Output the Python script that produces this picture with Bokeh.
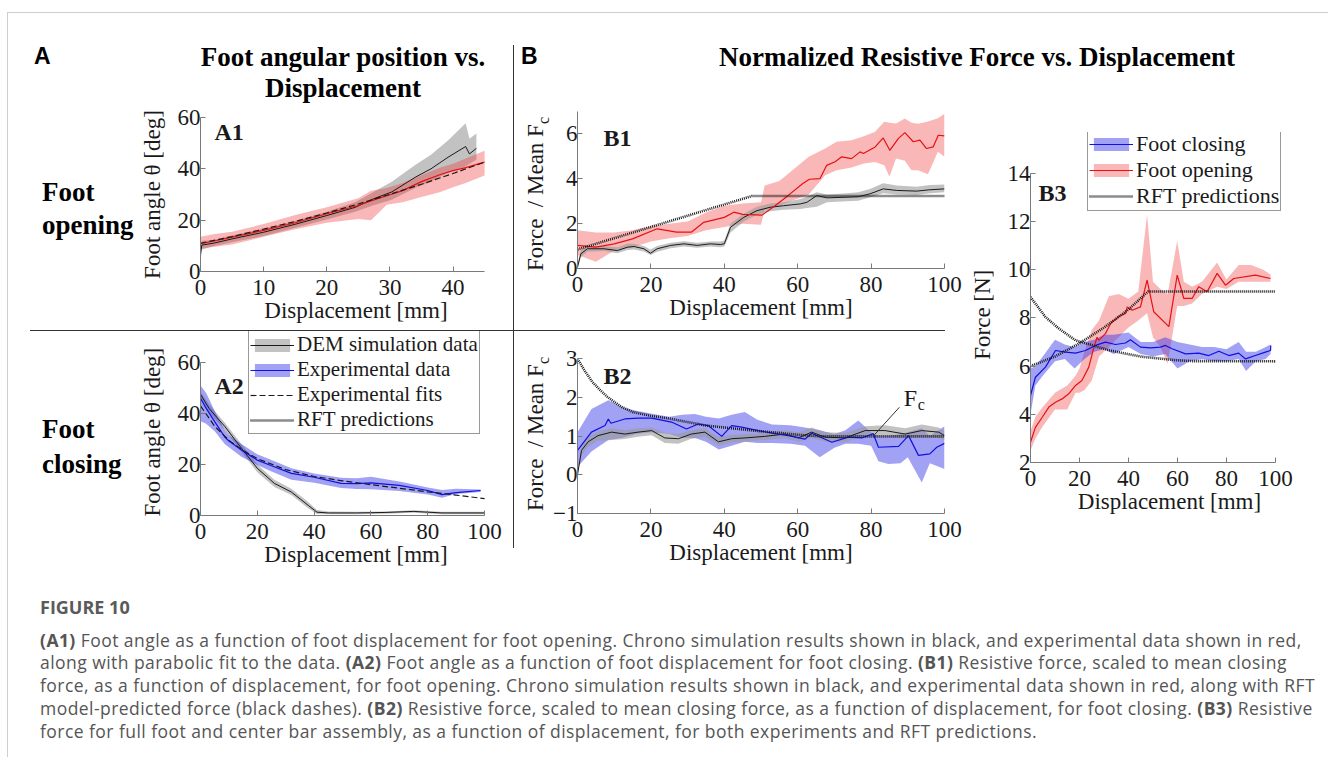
from bokeh.plotting import figure
from bokeh.models import Range1d, FixedTicker, Label, Legend, LegendItem, Div, Spacer
from bokeh.layouts import row, column
from bokeh.embed import file_html
from bokeh.resources import INLINE

# ---------------- data ----------------
# A1: foot opening, angle vs displacement
A1_dem_x = [0, 0.2, 2, 5, 10, 15, 20, 24.5, 27.4, 30.3, 34, 36.5, 39.2, 42, 42.6, 43.7]
A1_dem_y = [6.5, 10.3, 11, 12.7, 15.3, 18.4, 21.8, 25, 28.3, 31, 36.7, 40, 44.5, 48.7, 45.8, 48]
A1_dem_hi = [9, 12, 12.3, 14, 16.8, 19.8, 23.3, 27, 31, 35, 41.5, 45.5, 51, 57.8, 51.7, 53.8]
A1_dem_lo = [4, 8.5, 9.8, 11.4, 13.8, 17, 20.3, 23.3, 25.8, 28, 32.5, 35, 38.5, 41, 42, 43.5]
A1_exp_x = [0, 2, 5, 10, 15, 20, 25, 27, 29.5, 32, 35, 38, 40, 42, 45]
A1_exp_y = [10.8, 11.8, 13.4, 16, 19, 22.5, 25.7, 27.5, 29.5, 31.5, 35, 37.8, 39.3, 40.5, 42.6]
A1_exp_hi = [13.5, 14.5, 15.5, 18.5, 22, 25, 28.5, 31.5, 32.5, 34.5, 37.5, 40.5, 42, 44, 47]
A1_exp_lo = [9, 9.5, 10.5, 13.5, 16.5, 19, 20.5, 20, 26, 27, 29, 31, 32.8, 34.5, 37.4]
A1_fit_x = [0, 5, 10, 15, 20, 25, 30, 35, 40, 45]
A1_fit_y = [11, 13.6, 16.5, 19.5, 22.8, 26.3, 30.1, 34, 38.2, 42.6]

# A2: foot closing, angle vs displacement
A2_dem_x = [0, 3, 8.5, 14.4, 20, 26, 32, 38, 41, 45, 55, 65, 75, 85, 100]
A2_dem_y = [47.5, 42, 35, 26.4, 18.5, 12.6, 9.2, 3.9, 1.3, 1, 1, 1.2, 1.6, 1, 1]
A2_dem_hi = [48.5, 43.5, 36.5, 28, 20, 14, 10.5, 5.2, 2.2, 1.6, 1.5, 1.6, 2.1, 1.5, 1.5]
A2_dem_lo = [46, 40.5, 33.5, 25, 17, 11.2, 8, 2.7, 0.6, 0.5, 0.5, 0.7, 1.1, 0.5, 0.5]
A2_exp_x = [0, 2, 5, 8.5, 10, 14.4, 20, 25, 32, 40, 49.5, 55, 60, 70, 80, 85, 90, 98.6]
A2_exp_y = [46, 42, 36.8, 30.9, 29.2, 25.7, 21.7, 19.5, 16.5, 15, 12.6, 12.5, 12.8, 11.8, 9.8, 8.2, 9, 9.8]
A2_exp_hi = [51, 48, 41, 33.5, 31.5, 28, 24, 21.8, 18.5, 16.5, 14.8, 14.6, 15.2, 13.3, 11, 10, 10.5, 10.2]
A2_exp_lo = [37, 36, 33, 28, 26.8, 23, 19.8, 17.3, 14, 12.8, 10.8, 10.4, 10.3, 9.6, 8.2, 7, 8.4, 9.2]
A2_fit_x = [0, 5, 10, 15, 20, 30, 40, 50, 60, 70, 80, 90, 100]
A2_fit_y = [43, 35, 29.5, 25.5, 22.3, 18, 15.3, 13.6, 12.1, 10.7, 9.3, 8, 6.6]

# B1: normalized force, foot opening
B1_exp_x = [0, 5, 10, 15, 21.7, 27, 31, 34.4, 40, 42.6, 45, 50.3, 54, 57.5, 61.4, 63.2, 66.1, 67.9, 70.2, 72,
            74.7, 77, 77.9, 81.1, 83.3, 85.1, 87.4, 89.2, 91.5, 93.3, 95.1, 96.9, 98.3, 100]
B1_exp_y = [1.03, 0.95, 1.1, 1.32, 1.77, 1.62, 1.62, 2.06, 2.28, 2.51, 2.41, 2.38, 2.82, 3.27, 3.79, 3.98, 4.01,
            4.6, 4.76, 4.98, 4.9, 5.2, 5.13, 5.42, 5.82, 5.27, 5.79, 6.06, 5.65, 5.72, 5.35, 5.42, 5.94, 5.91]
B1_band_x = [0, 5, 10, 15, 20, 25, 30, 35, 40, 45, 50, 51, 55, 58, 63, 67.5, 70.6, 74.7, 78, 81, 83.6, 85,
             86.8, 89.2, 91, 92.8, 95.5, 98.2, 100]
B1_exp_hi = [1.7, 1.6, 1.6, 1.7, 1.9, 2.0, 2.1, 2.5, 2.8, 2.9, 2.95, 3.7, 3.9, 4.3, 4.98, 5.35, 5.65, 5.72, 5.9,
             6.09, 6.54, 6.5, 6.47, 6.69, 6.5, 6.45, 6.55, 6.7, 6.9]
B1_exp_lo = [0.6, 0.3, 0.8, 0.95, 1.2, 1.35, 1.45, 1.7, 1.85, 2.0, 1.95, 2.6, 2.8, 3.0, 3.3, 4.16, 4.38, 4.5,
             4.68, 4.75, 4.6, 4.09, 4.9, 4.8, 4.38, 4.38, 4.2, 5.2, 4.98]
B1_dem_x = [0, 0.9, 2.7, 7.2, 10.9, 13.6, 15.4, 18.1, 19.9, 21.7, 25.4, 29, 32.6, 36.2, 38.9, 40, 41.7, 45.3,
            48.9, 52.5, 56.2, 60.7, 62.5, 65.2, 68, 73.4, 76.5, 79.7, 83.3, 87, 92.4, 96, 100]
B1_dem_y = [0.06, 0.65, 0.88, 0.88, 0.8, 0.95, 0.98, 0.88, 0.68, 0.88, 1.03, 1.1, 1.03, 1.1, 1.07, 1.1, 1.84,
            2.28, 2.58, 2.73, 2.8, 2.88, 2.95, 3.25, 3.15, 3.18, 3.2, 3.33, 3.55, 3.48, 3.45, 3.51, 3.55]
B1_dem_hi = [0.2, 0.8, 1.0, 1.0, 0.95, 1.1, 1.1, 1.0, 0.85, 1.0, 1.15, 1.22, 1.15, 1.2, 1.2, 1.25, 2.0, 2.45,
             2.75, 2.9, 2.95, 3.1, 3.2, 3.4, 3.3, 3.35, 3.4, 3.55, 3.8, 3.7, 3.65, 3.72, 3.75]
B1_dem_lo = [0.0, 0.5, 0.75, 0.78, 0.68, 0.82, 0.85, 0.76, 0.6, 0.75, 0.9, 0.98, 0.92, 0.98, 0.95, 0.98, 1.6,
             2.1, 2.4, 2.55, 2.62, 2.65, 2.7, 2.75, 2.95, 3.0, 3.02, 3.18, 3.35, 3.3, 3.28, 3.35, 3.4]
B1_rft_x = [0, 47.5, 100]
B1_rft_y = [0.85, 3.23, 3.23]

# B2: normalized force, foot closing
B2_exp_x = [0, 3.8, 7.5, 8.4, 9.1, 12.9, 16.5, 20.2, 25.6, 29.7, 32.9, 35.6, 39.3, 42, 44.7, 49.3, 53.8, 57.5,
            62, 63.8, 69.3, 73.8, 77.5, 80.6, 82, 87.5, 90.2, 92.9, 96, 97.9, 100]
B2_exp_y = [0.63, 1.10, 1.27, 1.44, 1.33, 1.44, 1.46, 1.46, 1.36, 1.18, 1.31, 1.27, 0.99, 1.27, 1.23, 1.14,
            1.06, 1.01, 0.92, 1.07, 0.84, 0.97, 0.95, 1.06, 0.71, 0.73, 1.01, 0.5, 0.54, 0.71, 0.81]
B2_band_x = [0, 3.8, 8.4, 12, 16, 20, 25, 28.5, 32, 35, 38.5, 42, 45.6, 49, 53, 58, 62, 66, 70, 73, 76.5, 80,
             82, 84.7, 88, 90, 93.8, 96, 100]
B2_exp_hi = [1.1, 1.7, 1.92, 1.75, 1.65, 1.58, 1.5, 1.55, 1.57, 1.5, 1.45, 1.55, 1.62, 1.42, 1.3, 1.28, 1.22,
             1.15, 1.05, 1.15, 1.4, 1.1, 1.0, 1.0, 1.05, 1.1, 1.2, 1.0, 1.25]
B2_exp_lo = [0.2, 0.6, 0.9, 0.95, 1.05, 1.1, 1.05, 0.95, 0.95, 0.85, 0.65, 0.75, 0.85, 0.82, 0.82, 0.8, 0.75,
             0.45, 0.7, 0.8, 0.8, 0.75, 0.35, 0.28, 0.3, 0.45, -0.2, 0.3, 0.15]
B2_dem_x = [0, 1.1, 2.9, 5.6, 9.3, 12.9, 16.5, 20.2, 23.8, 27.5, 31, 34.7, 38.4, 42, 45.6, 51, 56.5, 60.2,
            63.8, 67.5, 72.9, 78.4, 83.8, 89.3, 93.8, 98.4, 100]
B2_dem_y = [0.0, 0.63, 0.85, 1.01, 1.1, 1.05, 1.1, 1.14, 0.95, 0.93, 1.05, 1.1, 0.85, 0.93, 0.95, 0.99, 1.05,
            0.95, 1.1, 0.97, 0.95, 1.14, 1.14, 1.05, 1.14, 1.1, 1.01]
B2_dem_hi = [0.1, 0.75, 0.98, 1.12, 1.2, 1.15, 1.2, 1.22, 1.08, 1.05, 1.15, 1.2, 0.97, 1.03, 1.05, 1.08, 1.15,
             1.1, 1.22, 1.1, 1.08, 1.25, 1.28, 1.2, 1.3, 1.22, 1.12]
B2_dem_lo = [0.0, 0.5, 0.72, 0.88, 0.9, 0.92, 0.98, 1.02, 0.82, 0.8, 0.93, 0.98, 0.75, 0.83, 0.85, 0.9, 0.94,
             0.85, 0.95, 0.85, 0.83, 1.02, 1.0, 0.93, 0.98, 0.95, 0.9]
B2_rft_x = [0, 2, 4, 6, 8, 10, 12, 15, 20, 25, 30, 35, 40, 45, 50, 55, 60, 65, 66.5, 100]
B2_rft_y = [2.99, 2.68, 2.40, 2.2, 2.02, 1.88, 1.75, 1.62, 1.52, 1.45, 1.36, 1.27, 1.22, 1.17, 1.12, 1.08,
            1.03, 1.0, 0.99, 0.99]
FC_POINTER = dict(x0=80.7, y0=1.01, x1=87.7, y1=1.74)   # annotation line pointing at the Fc level
FC_TEXT = dict(x=90.7, y=1.97)

# B3: force [N]
B3_open_x = [0, 2, 4.8, 7.5, 10.2, 12.9, 15.6, 18.4, 21, 23.8, 25.9, 27.2, 27.9, 30.6, 32.7, 36, 38.8, 39.5,
             41.5, 44.9, 47.6, 50.3, 56.5, 59.9, 62.6, 66, 68.7, 72.1, 76.2, 79.6, 83, 91.8, 98]
B3_open_y = [2.84, 3.46, 3.88, 4.3, 4.5, 4.64, 4.85, 5.2, 5.4, 5.96, 6.79, 7.2, 7.07, 7.35, 7.77, 8.05, 8.19,
             8.46, 8.32, 8.46, 9.57, 8.26, 7.64, 9.78, 8.81, 8.81, 9.3, 9.09, 9.85, 9.36, 9.64, 9.78, 9.64]
B3_oband_x = [0, 2, 5, 10, 15, 18.4, 20, 22, 25, 28, 32, 36, 40, 44, 47.6, 50, 53, 56, 59.9, 62.6, 66, 70,
              76.2, 80, 85, 90, 95, 98]
B3_open_hi = [3.3, 3.9, 4.3, 4.9, 5.2, 5.6, 5.9, 6.6, 7.5, 7.9, 8.9, 9.0, 8.8, 9.1, 12.3, 9.5, 9.2, 9.0, 11.2,
              9.5, 9.3, 9.5, 10.3, 9.6, 10.2, 10.2, 10.0, 9.8]
B3_open_lo = [2.5, 3.0, 3.5, 4.2, 4.2, 4.9, 4.9, 5.0, 5.4, 6.4, 6.8, 7.2, 7.6, 7.9, 8.2, 7.2, 6.8, 6.1, 8.5,
              8.5, 8.6, 9.0, 9.3, 9.2, 9.5, 9.5, 9.5, 9.5]
B3_close_x = [0, 2, 6.1, 10.2, 14.3, 18.4, 22.4, 26.5, 30.6, 34.7, 38.8, 40.8, 44.9, 49, 53.1, 55.1, 57.8,
              63.3, 68.7, 72.8, 76.9, 81, 85, 87.8, 91.8, 95.9, 98, 98.1]
B3_close_y = [4.78, 5.54, 5.96, 6.65, 6.58, 6.54, 6.65, 6.86, 7.0, 6.9, 6.96, 7.1, 6.79, 6.76, 6.79, 6.86,
              6.72, 6.51, 6.54, 6.44, 6.62, 6.44, 6.54, 6.3, 6.44, 6.58, 6.65, 6.86]
B3_cband_x = [0, 2, 5, 10, 14, 18, 22, 26, 30, 34, 40, 45, 50, 55, 60, 65, 70, 75, 80, 85, 88, 92, 96, 98]
B3_close_hi = [5.9, 6.0, 6.4, 7.1, 6.9, 6.8, 7.0, 7.1, 7.3, 7.3, 7.4, 7.0, 7.0, 7.2, 7.0, 6.9, 6.8, 6.8, 6.7,
               7.0, 6.6, 6.6, 6.8, 6.9]
B3_close_lo = [4.0, 5.2, 5.6, 6.2, 6.3, 5.9, 6.3, 6.6, 6.7, 6.5, 6.8, 6.5, 6.4, 6.5, 5.9, 6.2, 6.3, 6.2, 6.2,
               6.3, 5.8, 6.2, 6.3, 6.5]
B3_rft_open_x = [0, 10, 20, 30, 40, 48, 100]
B3_rft_open_y = [6.0, 6.4, 6.95, 7.6, 8.35, 9.1, 9.1]
B3_rft_close_x = [0, 6.1, 11.6, 18.4, 25.2, 32, 38.8, 45.6, 52.4, 59.2, 66, 100]
B3_rft_close_y = [8.87, 8.04, 7.56, 7.07, 6.87, 6.66, 6.52, 6.39, 6.32, 6.25, 6.21, 6.2]

X_TICKS_100 = [0, 20, 40, 60, 80, 100]
A1_X_TICKS = [0, 10, 20, 30, 40]
A_Y_TICKS = [0, 20, 40, 60]
B1_Y_TICKS = [0, 2, 4, 6]
B2_Y_TICKS = [-1, 0, 1, 2, 3]
B3_Y_TICKS = [2, 4, 6, 8, 10, 12, 14]

CAPTION_LINES = [
    "<b>(A1)</b> Foot angle as a function of foot displacement for foot opening. Chrono simulation results shown in black, and experimental data shown in red,",
    "along with parabolic fit to the data. <b>(A2)</b> Foot angle as a function of foot displacement for foot closing. <b>(B1)</b> Resistive force, scaled to mean closing",
    "force, as a function of displacement, for foot opening. Chrono simulation results shown in black, and experimental data shown in red, along with RFT",
    "model-predicted force (black dashes). <b>(B2)</b> Resistive force, scaled to mean closing force, as a function of displacement, for foot closing. <b>(B3)</b> Resistive",
    "force for full foot and center bar assembly, as a function of displacement, for both experiments and RFT predictions.",
]
NAN = float("nan")
NBSP = "\u00a0"

# ---------------- styles ----------------
SERIF = "Liberation Serif"
AXC = "#7a7a7a"
TXT = "#1a1a1a"
GRAY_FILL, GRAY_A = "#9a9a9a", 0.6
RED_FILL, RED_A = "#f03030", 0.35
BLUE_FILL, BLUE_A = "#3030e8", 0.45
RED_LINE = "#e81010"
BLUE_LINE = "#1010e0"
BLACK = "#1a1a1a"
RFT_DASH = "1 1"


def make_panel(w, h, xr, yr, xb, yb, fl, fw, ft, fh, xt, yt, xlabel=None, ylabel=None):
    p = figure(width=w, height=h, x_range=Range1d(*xr), y_range=Range1d(*yr),
               output_backend="svg", toolbar_location=None,
               min_border_left=fl, min_border_right=w - fl - fw,
               min_border_top=ft, min_border_bottom=h - ft - fh)
    p.outline_line_color = None
    p.grid.visible = False
    p.background_fill_color = "white"
    p.border_fill_color = "white"
    for ax in (p.xaxis[0], p.yaxis[0]):
        ax.axis_line_color = AXC
        ax.major_tick_line_color = AXC
        ax.major_tick_in = 5
        ax.major_tick_out = 0
        ax.minor_tick_line_color = None
        ax.major_label_text_font = SERIF
        ax.major_label_text_font_size = "23px"
        ax.major_label_text_color = TXT
        ax.axis_label_text_font = SERIF
        ax.axis_label_text_font_size = "23px"
        ax.axis_label_text_font_style = "normal"
        ax.axis_label_text_color = TXT
    p.xaxis.bounds = xb
    p.yaxis.bounds = yb
    p.xaxis.ticker = FixedTicker(ticks=xt)
    p.yaxis.ticker = FixedTicker(ticks=yt)
    p.xaxis.major_label_standoff = 8
    p.yaxis.major_label_standoff = 0
    p.xaxis.axis_label_standoff = 0
    p.yaxis.axis_label_standoff = 10
    if xlabel:
        p.xaxis.axis_label = xlabel
    if ylabel:
        p.yaxis.axis_label = ylabel
    return p


def slabel(p, x, y, text, size="24px", bold=True, align="left", units="screen"):
    p.add_layout(Label(x=x, y=y, x_units=units, y_units=units, text=text, text_font=SERIF,
                       text_font_size=size, text_font_style="bold" if bold else "normal",
                       text_color=TXT, text_align=align, text_baseline="middle"))


def band(p, x, lo, hi, color, alpha):
    return p.varea(x=x, y1=lo, y2=hi, fill_color=color, fill_alpha=alpha)


def rft(p, x, y):
    return p.line(x, y, line_color=BLACK, line_width=2.6, line_dash=RFT_DASH)


def legend(items, loc, size):
    return Legend(items=items, location=loc, label_text_font=SERIF, label_text_font_size=size,
                  label_text_color=TXT, glyph_width=44, glyph_height=16, label_height=16,
                  label_standoff=3, padding=1, spacing=0, margin=0, border_line_color="#333",
                  border_line_width=1, background_fill_color="white", background_fill_alpha=1)


def html_box(w, h, inner):
    return Div(text=f'<div style="position:relative;width:{w}px;height:{h}px;overflow:hidden;">{inner}</div>',
               width=w, height=h, margin=0)


def abs_text(left, top, text, font, size, weight="bold", extra=""):
    return (f'<div style="position:absolute;left:{left}px;top:{top}px;font-family:\'{font}\';'
            f'font-size:{size}px;font-weight:{weight};line-height:1;white-space:nowrap;color:#000;{extra}">'
            f'{text}</div>')


def abs_line(left, top, w, h, color="#333"):
    return f'<div style="position:absolute;left:{left}px;top:{top}px;width:{w}px;height:{h}px;background:{color};"></div>'


# ---------------- A1 ----------------
A1 = make_panel(377, 227, (0, 49.26), (0, 60), (0, 45), (0, 60), 63, 312, 14, 154, A1_X_TICKS, A_Y_TICKS,
                "Displacement [mm]", "Foot angle θ [deg]")
band(A1, A1_dem_x, A1_dem_lo, A1_dem_hi, GRAY_FILL, GRAY_A)
band(A1, A1_exp_x, A1_exp_lo, A1_exp_hi, RED_FILL, RED_A)
A1.line(A1_dem_x, A1_dem_y, line_color=BLACK, line_width=1)
A1.line(A1_exp_x, A1_exp_y, line_color=RED_LINE, line_width=1.2)
A1.line(A1_fit_x, A1_fit_y, line_color=BLACK, line_width=1.2, line_dash="6 3")
slabel(A1, 14, 140, "A1")

# ---------------- A2 ----------------
# the frame is taller than the 0-60 axis (room for the legend), so the label is padded to sit on the axis
A2 = make_panel(377, 245, (0, 109.47), (0, 72.16), (0, 100), (0, 60), 63, 312, 0, 184, X_TICKS_100, A_Y_TICKS,
                "Displacement [mm]", "Foot angle θ [deg]" + NBSP * 3)
g_band = band(A2, A2_dem_x, A2_dem_lo, A2_dem_hi, GRAY_FILL, GRAY_A)
b_band = band(A2, A2_exp_x, A2_exp_lo, A2_exp_hi, BLUE_FILL, BLUE_A)
g_line = A2.line(A2_dem_x, A2_dem_y, line_color=BLACK, line_width=1)
b_line = A2.line(A2_exp_x, A2_exp_y, line_color=BLUE_LINE, line_width=1.2)
fit_line = A2.line(A2_fit_x, A2_fit_y, line_color=BLACK, line_width=1.2, line_dash="6 3")
rft_key = rft(A2, [NAN], [NAN])   # legend key only (no visible data in A2)
A2.add_layout(legend([
    LegendItem(label="DEM simulation data", renderers=[g_band, g_line]),
    LegendItem(label="Experimental data", renderers=[b_band, b_line]),
    LegendItem(label="Experimental fits", renderers=[fit_line]),
    LegendItem(label="RFT predictions", renderers=[rft_key]),
], (48, 81), "21px"))
slabel(A2, 14, 130, "A2")

# ---------------- B1 ----------------
B1 = make_panel(415, 227, (0, 100), (0, 7), (0, 100), (0, 7), 26, 368, 8, 157, X_TICKS_100, B1_Y_TICKS,
                "Displacement [mm]")
band(B1, B1_band_x, B1_exp_lo, B1_exp_hi, RED_FILL, RED_A)
band(B1, B1_dem_x, B1_dem_lo, B1_dem_hi, GRAY_FILL, GRAY_A)
B1.line(B1_dem_x, B1_dem_y, line_color=BLACK, line_width=1)
B1.line(B1_exp_x, B1_exp_y, line_color=RED_LINE, line_width=1.2)
rft(B1, B1_rft_x, B1_rft_y)
slabel(B1, 26, 131, "B1")

# ---------------- B2 ----------------
B2 = make_panel(415, 245, (0, 100), (-1, 3), (0, 100), (-1, 3), 26, 368, 27, 155, X_TICKS_100, B2_Y_TICKS,
                "Displacement [mm]")
band(B2, B2_band_x, B2_exp_lo, B2_exp_hi, BLUE_FILL, BLUE_A)
band(B2, B2_dem_x, B2_dem_lo, B2_dem_hi, GRAY_FILL, GRAY_A)
B2.line(B2_dem_x, B2_dem_y, line_color=BLACK, line_width=1)
B2.line(B2_exp_x, B2_exp_y, line_color=BLUE_LINE, line_width=1.2)
rft(B2, B2_rft_x, B2_rft_y)
B2.segment(x0=[FC_POINTER["x0"]], y0=[FC_POINTER["y0"]], x1=[FC_POINTER["x1"]], y1=[FC_POINTER["y1"]],
           line_color="#333", line_width=1)
slabel(B2, FC_TEXT["x"], FC_TEXT["y"], "F", bold=False, align="center", units="data")
B2.add_layout(Label(x=FC_TEXT["x"], y=FC_TEXT["y"], x_offset=11, y_offset=-6, text="c", text_font=SERIF,
                    text_font_size="16px", text_color=TXT, text_align="center", text_baseline="middle"))
slabel(B2, 26, 138, "B2")

# ---------------- B3 ----------------
B3 = make_panel(363, 473, (0, 113.5), (2, 15.70), (0, 100), (2, 14), 65, 278, 29, 330, X_TICKS_100, B3_Y_TICKS,
                "Displacement [mm]", "Force [N]" + NBSP * 6)
o_band = band(B3, B3_oband_x, B3_open_lo, B3_open_hi, RED_FILL, RED_A)
c_band = band(B3, B3_cband_x, B3_close_lo, B3_close_hi, BLUE_FILL, BLUE_A)
o_line = B3.line(B3_open_x, B3_open_y, line_color=RED_LINE, line_width=1.2)
c_line = B3.line(B3_close_x, B3_close_y, line_color=BLUE_LINE, line_width=1.2)
r_open = rft(B3, B3_rft_open_x, B3_rft_open_y)
rft(B3, B3_rft_close_x, B3_rft_close_y)
B3.add_layout(legend([
    LegendItem(label="Foot closing", renderers=[c_band, c_line]),
    LegendItem(label="Foot opening", renderers=[o_band, o_line]),
    LegendItem(label="RFT predictions", renderers=[r_open]),
], (57, 251), "22px"))
slabel(B3, 8, 270, "B3")

# ---------------- texts around the panels (HTML) ----------------
title_A = html_box(505, 90,
                   abs_text(26, 32, "A", "Liberation Sans", 23) +
                   abs_text(0, 31, "Foot angular position vs.", SERIF, 27, extra="width:670px;text-align:center;") +
                   abs_text(0, 62, "Displacement", SERIF, 27, extra="width:670px;text-align:center;"))
title_B = html_box(815, 90,
                   abs_text(7, 32, "B", "Liberation Sans", 23) +
                   abs_text(0, 31, "Normalized Resistive Force vs. Displacement", SERIF, 27,
                            extra="width:926px;text-align:center;"))
foot_box = html_box(128, 473,
                    abs_text(34, 76, "Foot", SERIF, 27) +
                    abs_text(34, 109, "opening", SERIF, 27) +
                    abs_line(22, 227, 106, 1) +
                    abs_text(34, 313, "Foot", SERIF, 27) +
                    abs_text(34, 348, "closing", SERIF, 27))

YLAB = ('Force&nbsp; / Mean F<span style="font-size:16px;position:relative;top:6px;">c</span>')
ylab_style = "transform:translate(-50%,-50%) rotate(-90deg);color:#1a1a1a;"
forceB_box = html_box(36, 473,
                      abs_text(21, 91, YLAB, SERIF, 23, weight="normal", extra=ylab_style) +
                      abs_line(0, 227, 36, 1) +
                      abs_text(21, 331, YLAB, SERIF, 23, weight="normal", extra=ylab_style))

cap_html = ('<div style="font-family:\'Open Sans\',sans-serif;color:#555;padding:20px 0 0 32px;">'
            '<div style="font-size:18px;font-weight:700;line-height:22px;color:#5a5a5a;">FIGURE 10</div>'
            '<div style="font-size:17.5px;letter-spacing:0.45px;line-height:22.75px;margin-top:10.6px;'
            'white-space:nowrap;">' + "<br>".join(CAPTION_LINES) + '</div></div>')
caption = Div(text=cap_html, width=1320, height=181, margin=0)


def solid(w, h, color="#333"):
    return Div(text="", width=w, height=h, margin=0, styles={"background-color": color})


# ---------------- layout ----------------
colA = column(title_A, row(foot_box, column(A1, solid(377, 1), A2)))
vline = column(Spacer(width=1, height=32), solid(1, 503))
colB = column(title_B, row(forceB_box, column(B1, solid(395, 1), B2), B3))
top_area = row(colA, vline, colB)
main = column(top_area, caption)

top_line = html_box(1328, 13, abs_line(7, 12, 1321, 1, "#cfcfcf"))
left_line = html_box(8, 744, abs_line(7, 0, 1, 744, "#cfcfcf"))
root = column(top_line, row(left_line, main))

open("out.html", "w").write(file_html(root, INLINE))
